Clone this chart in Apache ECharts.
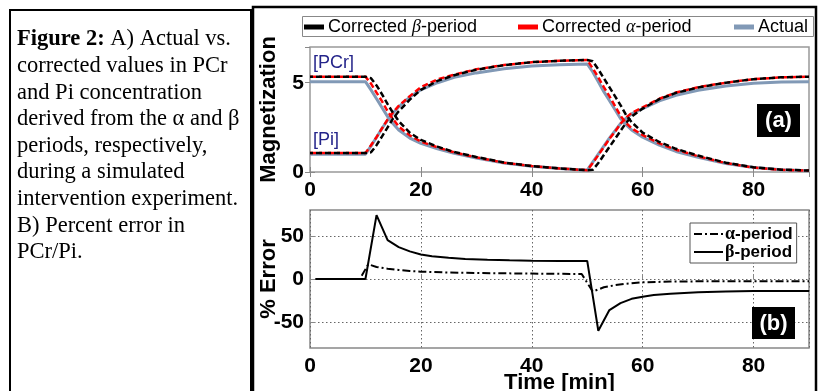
<!DOCTYPE html>
<html>
<head>
<meta charset="utf-8">
<script src="https://cdn.jsdelivr.net/npm/echarts@6/dist/echarts.min.js"></script>
<style>
  html, body { margin: 0; padding: 0; background: #fff; }
  #chart { width: 824px; height: 391px; }
</style>
</head>
<body>
<div id="chart"></div>
<script>
// panel (a): time points (min) and magnetization values
const tTop = [0, 10, 11, 12, 13, 14, 15, 16, 18, 20, 23, 26, 30, 35, 40, 45, 50,
  51, 52, 53, 54, 55, 56, 57, 58, 60, 63, 66, 70, 75, 80, 85, 90];
const actualPCr = [5.06, 5.06, 4.6, 4.1, 3.6, 3.1, 2.7, 2.35, 1.9, 1.6, 1.3, 1.05, 0.78, 0.5, 0.32, 0.2, 0.1,
  0.55, 1.0, 1.45, 1.9, 2.3, 2.7, 3.0, 3.25, 3.55, 3.98, 4.3, 4.58, 4.82, 4.97, 5.04, 5.06];
const actualPi = [1.0, 1.0, 1.45, 1.95, 2.45, 2.9, 3.3, 3.65, 4.2, 4.6, 5.0, 5.3, 5.55, 5.78, 5.93, 6.01, 6.05,
  5.6, 5.05, 4.5, 4.0, 3.5, 3.0, 2.65, 2.35, 1.95, 1.5, 1.15, 0.82, 0.48, 0.25, 0.12, 0.07];
const alphaPCr = [5.34, 5.34, 4.95, 4.45, 3.95, 3.4, 2.95, 2.55, 2.05, 1.7, 1.38, 1.1, 0.82, 0.52, 0.33, 0.2, 0.1,
  0.5, 0.95, 1.4, 1.85, 2.25, 2.7, 3.05, 3.3, 3.62, 4.1, 4.45, 4.75, 5.0, 5.2, 5.3, 5.34];
const alphaPi = [1.06, 1.06, 1.5, 1.95, 2.45, 2.95, 3.35, 3.7, 4.25, 4.75, 5.19, 5.45, 5.75, 5.99, 6.15, 6.23, 6.27,
  5.8, 5.3, 4.75, 4.25, 3.7, 3.15, 2.75, 2.45, 2.07, 1.6, 1.25, 0.88, 0.5, 0.25, 0.12, 0.08];
const betaPCr = [5.34, 5.34, 5.25, 4.85, 4.35, 3.8, 3.3, 2.85, 2.2, 1.8, 1.42, 1.12, 0.84, 0.53, 0.33, 0.2, 0.1,
  0.12, 0.5, 0.95, 1.4, 1.85, 2.3, 2.75, 3.1, 3.55, 4.08, 4.43, 4.73, 5.0, 5.2, 5.3, 5.34];
const betaPi = [1.06, 1.06, 1.1, 1.5, 2.0, 2.5, 3.0, 3.4, 4.05, 4.6, 5.1, 5.42, 5.73, 5.98, 6.15, 6.23, 6.27,
  6.2, 5.75, 5.25, 4.75, 4.25, 3.75, 3.2, 2.8, 2.2, 1.68, 1.3, 0.92, 0.52, 0.27, 0.13, 0.08];

// panel (b): percent error in PCr/Pi
const tAlpha = [1, 9, 10.5, 12, 14, 16, 18, 20, 25, 30, 35, 40, 45, 49, 51, 53, 55, 57, 60, 65, 70, 80, 90];
const alphaErr = [0, 0, 17, 14, 12, 10.5, 9.2, 8.5, 7.5, 7, 6.6, 6.3, 6, 5.8, -14.5, -9.6, -7.2, -5.5, -3.8, -3.0, -2.7, -2.5, -2.5];
const tBeta = [1, 10, 12, 14, 16, 18, 20, 22, 25, 28, 32, 36, 40, 45, 50, 52, 54, 56, 58, 60, 62, 65, 70, 75, 80, 90];
const betaErr = [0, 0, 74, 45, 37, 32, 28.5, 26.5, 24.5, 23.3, 22.3, 21.7, 21.3, 21, 21,
  -60, -36, -28, -23, -20.5, -18.5, -17, -15.5, -14.5, -14, -14];

const errTicks = [-50, 0, 50];

const captionLines = [
  '{b|Figure 2:} A) Actual vs.',
  'corrected values in PCr',
  'and Pi concentration',
  'derived from the α and β',
  'periods, respectively,',
  'during a simulated',
  'intervention experiment.',
  'B) Percent error in',
  'PCr/Pi.'
];

const zip = (t, v) => t.map((x, i) => [x, v[i]]);

const SANS = 'Liberation Sans';
const SERIF = 'Liberation Serif';
const tickLabel = { fontSize: 21, fontWeight: 'bold', color: '#000', fontFamily: SANS };
const frameTick = { show: true, inside: true, length: 5, lineStyle: { color: '#888', width: 1 } };
const axisName = { fontSize: 22, fontWeight: 'bold', color: '#000', fontFamily: SANS };

const ACTUAL = '#8199b6';

// boxes, panel tags, curve labels
const graphics = [
  { type: 'rect', shape: { x: 10, y: 10, width: 241, height: 400 },
    style: { fill: 'none', stroke: '#000', lineWidth: 2 }, z: 0 },
  { type: 'rect', shape: { x: 253, y: 7, width: 563, height: 400 },
    style: { fill: 'none', stroke: '#000', lineWidth: 2.5 }, z: 0 },
  { type: 'rect', shape: { x: 302.5, y: 16.5, width: 511, height: 20 },
    style: { fill: 'none', stroke: '#888', lineWidth: 1 }, z: 0 },
  { type: 'rect', shape: { x: 757, y: 104, width: 43, height: 33 }, style: { fill: '#000' }, z: 10 },
  { type: 'text', x: 778.5, y: 121, z: 11,
    style: { text: '(a)', fill: '#fff', font: 'bold 22px "Liberation Sans"', align: 'center', verticalAlign: 'middle' } },
  { type: 'rect', shape: { x: 752, y: 307, width: 43, height: 32 }, style: { fill: '#000' }, z: 10 },
  { type: 'text', x: 773.5, y: 323.5, z: 11,
    style: { text: '(b)', fill: '#fff', font: 'bold 22px "Liberation Sans"', align: 'center', verticalAlign: 'middle' } },
  { type: 'text', x: 313, y: 63, z: 11,
    style: { text: '[PCr]', fill: '#24248a', font: '18px "Liberation Sans"', verticalAlign: 'middle' } },
  { type: 'text', x: 313, y: 140, z: 11,
    style: { text: '[Pi]', fill: '#24248a', font: '18px "Liberation Sans"', verticalAlign: 'middle' } }
];
// caption on the left
captionLines.forEach((line, i) => {
  graphics.push({
    type: 'text', x: 17, y: 39.5 + i * 26.6, z: 5,
    style: {
      text: line, fill: '#000', fontSize: 22.5, fontFamily: SERIF, verticalAlign: 'middle',
      rich: { b: { fontSize: 22.5, fontFamily: SERIF, fontWeight: 'bold' } }
    }
  });
});

const topLegend = (name, left, text) => ({
  data: [name], left: left, top: 18, padding: 0, icon: 'rect', itemWidth: 20, itemHeight: 5, itemGap: 0,
  formatter: () => text,
  textStyle: {
    fontSize: 18, fontFamily: SANS, color: '#000', padding: [0, 0, 0, -1],
    rich: { g: { fontSize: 18, fontFamily: SERIF, fontStyle: 'italic', color: '#000' } }
  }
});

const option = {
  animation: false,
  backgroundColor: '#fff',
  graphic: graphics,
  legend: [
    topLegend('Corrected β-period', 304, 'Corrected {g|β}-period'),
    topLegend('Corrected α-period', 518, 'Corrected {g|α}-period'),
    topLegend('Actual', 734, 'Actual'),
    {
      data: ['α-period', 'β-period'], orient: 'vertical', left: 690, top: 223,
      padding: [2, 4, 2, 3], itemGap: 0, itemWidth: 29, itemHeight: 15,
      borderColor: '#555', borderWidth: 1, backgroundColor: '#fff',
      itemStyle: { opacity: 0 },
      formatter: n => n === 'α-period' ? '{g|α}-period' : '{g|β}-period',
      textStyle: {
        fontSize: 17, fontWeight: 'bold', fontFamily: SANS, color: '#000', padding: [0, 0, 0, -3],
        rich: { g: { fontSize: 18, fontFamily: SERIF, color: '#000' } }
      }
    }
  ],
  grid: [
    { left: 310, top: 47, width: 499, height: 125, show: true, borderColor: '#999', borderWidth: 1.5,
      outerBoundsMode: 'none' },
    { left: 310, top: 210, width: 499, height: 138, show: true, borderColor: '#888', borderWidth: 1.5,
      outerBoundsMode: 'none' }
  ],
  xAxis: [
    { gridIndex: 0, type: 'value', min: 0, max: 90, interval: 20, position: 'bottom',
      axisLine: { show: false }, axisTick: frameTick, splitLine: { show: false },
      axisLabel: Object.assign({ margin: 8, showMaxLabel: false }, tickLabel) },
    { gridIndex: 0, type: 'value', min: 0, max: 90, interval: 20, position: 'top',
      axisLine: { show: false }, axisTick: frameTick, splitLine: { show: false }, axisLabel: { show: false } },
    { gridIndex: 1, type: 'value', min: 0, max: 90, interval: 20, position: 'bottom',
      axisLine: { show: false }, axisTick: frameTick,
      splitLine: { show: true, lineStyle: { color: '#666', type: [1.5, 2.5], width: 1 } },
      axisLabel: Object.assign({ margin: 8, showMaxLabel: false }, tickLabel),
      name: 'Time [min]', nameLocation: 'middle', nameGap: 24, nameMoveOverlap: false, nameTextStyle: axisName }
  ],
  yAxis: [
    { gridIndex: 0, type: 'value', min: 0, max: 7, interval: 5, position: 'left',
      axisLine: { show: false }, axisTick: frameTick, splitLine: { show: false },
      axisLabel: Object.assign({ margin: 6, showMaxLabel: false }, tickLabel),
      name: 'Magnetization', nameLocation: 'middle', nameGap: 30, nameMoveOverlap: false, nameTextStyle: axisName },
    { gridIndex: 0, type: 'value', min: 0, max: 7, interval: 5, position: 'right',
      axisLine: { show: false }, axisTick: frameTick, splitLine: { show: false }, axisLabel: { show: false } },
    { gridIndex: 1, type: 'value', min: -80, max: 80, position: 'left',
      axisLine: { show: false },
      axisTick: Object.assign({ customValues: errTicks }, frameTick),
      splitLine: { show: true, lineStyle: { color: '#666', type: [1.5, 2.5], width: 1 } },
      axisLabel: Object.assign({ margin: 6, customValues: errTicks }, tickLabel),
      name: '% Error', nameLocation: 'middle', nameGap: 30, nameMoveOverlap: false, nameTextStyle: axisName }
  ],
  series: [
    { name: 'Actual', type: 'line', xAxisIndex: 0, yAxisIndex: 0, symbol: 'none', data: zip(tTop, actualPCr),
      itemStyle: { color: ACTUAL }, lineStyle: { color: ACTUAL, width: 3 } },
    { name: 'Actual', type: 'line', xAxisIndex: 0, yAxisIndex: 0, symbol: 'none', data: zip(tTop, actualPi),
      itemStyle: { color: ACTUAL }, lineStyle: { color: ACTUAL, width: 3 } },
    { name: 'Corrected α-period', type: 'line', xAxisIndex: 0, yAxisIndex: 0, symbol: 'none', data: zip(tTop, alphaPCr),
      itemStyle: { color: '#ff0000' }, lineStyle: { color: '#ff0000', width: 2.5, type: [6, 3] } },
    { name: 'Corrected α-period', type: 'line', xAxisIndex: 0, yAxisIndex: 0, symbol: 'none', data: zip(tTop, alphaPi),
      itemStyle: { color: '#ff0000' }, lineStyle: { color: '#ff0000', width: 2.5, type: [6, 3] } },
    { name: 'Corrected β-period', type: 'line', xAxisIndex: 0, yAxisIndex: 0, symbol: 'none', data: zip(tTop, betaPCr),
      itemStyle: { color: '#000' }, lineStyle: { color: '#000', width: 2.5, type: [6, 3], dashOffset: 3 } },
    { name: 'Corrected β-period', type: 'line', xAxisIndex: 0, yAxisIndex: 0, symbol: 'none', data: zip(tTop, betaPi),
      itemStyle: { color: '#000' }, lineStyle: { color: '#000', width: 2.5, type: [6, 3], dashOffset: 3 } },
    { name: 'α-period', type: 'line', xAxisIndex: 2, yAxisIndex: 2, symbol: 'none', data: zip(tAlpha, alphaErr),
      itemStyle: { color: '#000' }, lineStyle: { color: '#000', width: 2, type: [8, 3, 2, 3] } },
    { name: 'β-period', type: 'line', xAxisIndex: 2, yAxisIndex: 2, symbol: 'none', data: zip(tBeta, betaErr),
      itemStyle: { color: '#000' }, lineStyle: { color: '#000', width: 2 } }
  ]
};

const chart = echarts.init(document.getElementById('chart'));
chart.setOption(option);
</script>
</body>
</html>
